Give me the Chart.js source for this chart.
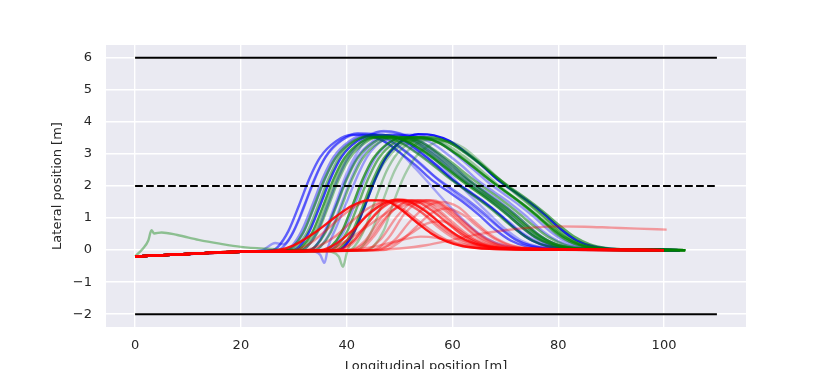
<!DOCTYPE html>
<html>
<head>
<meta charset="utf-8">
<script src="https://cdn.jsdelivr.net/npm/chart.js@4/dist/chart.umd.min.js"></script>
<style>
  html, body { margin: 0; padding: 0; background: #fff; overflow: hidden; }
  canvas { display: block; }
</style>
</head>
<body>
<canvas id="lanes" width="830" height="380"></canvas>
<script>
// tick labels
const xTicks = [0, 20, 40, 60, 80, 100];
const yTicks = [-2, -1, 0, 1, 2, 3, 4, 5, 6];

// road markings: [x from, x to] and lateral positions
const laneSpan = [0, 110];
const laneEdges = [6, -2];
const laneCentre = 2;

// shared approach before the manoeuvre (longitudinal, lateral)
const approach = [[0, -0.2], [10, -0.12], [20, -0.05]];

// blue runs, [longitudinal, lateral]
const blueRuns = [
  [[26,0],[27,0.1],[29,0.6],[31,1.4],[33,2.25],[35,2.9],[38,3.4],[41,3.6],[44,3.58],[47,3.4],[50,3.05],[53,2.65],[56,2.2],[59,1.85],[62,1.5],[65,1.1],[68,0.65],[71,0.3],[74,0.12],[79,0.03],[90,0.01],[103,0]],
  [[27,0],[28,0.1],[30,0.6],[32,1.4],[34,2.25],[36,2.9],[39,3.42],[42,3.65],[45,3.62],[48,3.45],[51,3.1],[54,2.7],[57,2.25],[60,1.9],[63,1.55],[66,1.15],[69,0.7],[72,0.32],[75,0.13],[80,0.03],[103,0]],
  [[28.5,0],[29.5,0.1],[31.5,0.6],[33.5,1.4],[35.5,2.25],[37.5,2.9],[40.5,3.4],[43.5,3.6],[46.5,3.6],[49.5,3.45],[52.5,3.15],[55.5,2.8],[58.5,2.4],[61.5,2.0],[64.5,1.65],[67.5,1.3],[70.5,0.9],[73.5,0.5],[76.5,0.22],[80,0.08],[86,0.02],[103,0]],
  [[30,0],[31,0.1],[33,0.6],[35,1.4],[37,2.25],[39,2.9],[42,3.4],[45,3.6],[48,3.58],[51,3.4],[54,3.05],[57,2.65],[60,2.2],[63,1.85],[66,1.5],[69,1.1],[72,0.65],[75,0.3],[78,0.12],[83,0.03],[103,0]],
  [[31.5,0],[32.5,0.1],[34.5,0.6],[36.5,1.45],[38.5,2.3],[40.5,2.95],[43.5,3.5],[46.5,3.7],[49.5,3.66],[52.5,3.45],[55.5,3.1],[58.5,2.7],[61.5,2.25],[64.5,1.88],[67.5,1.5],[70.5,1.1],[73.5,0.65],[76.5,0.3],[79.5,0.12],[84,0.03],[103,0]],
  [[33,0],[34,0.1],[36,0.6],[38,1.4],[40,2.25],[42,2.9],[45,3.4],[48,3.6],[51,3.58],[54,3.4],[57,3.05],[60,2.65],[63,2.2],[66,1.85],[69,1.5],[72,1.1],[75,0.65],[78,0.3],[81,0.12],[86,0.03],[103,0]],
  [[33,-0.02],[35,-0.15],[35.8,-0.4],[36.5,0.1],[38,0.7],[40,1.5],[42,2.3],[44,2.95],[47,3.45],[50,3.6],[53,3.55],[56,3.35],[59,3.0],[62,2.6],[65,2.15],[68,1.8],[71,1.45],[74,1.05],[77,0.6],[80,0.28],[83,0.11],[88,0.03],[103,0]],
  [[30,-0.02],[38.5,0],[39.5,0.1],[41.5,0.6],[43.5,1.4],[45.5,2.25],[47.5,2.9],[50.5,3.42],[53.5,3.62],[56.5,3.58],[59.5,3.4],[62.5,3.05],[65.5,2.65],[68.5,2.2],[71.5,1.85],[74.5,1.5],[77.5,1.1],[80.5,0.65],[83.5,0.3],[86.5,0.12],[91,0.03],[103,0]],
  [[33,0],[34,0.1],[36,0.65],[38,1.5],[40,2.4],[42,3.05],[44,3.5],[47,3.72],[50,3.65],[53,3.45],[56,3.1],[59,2.7],[62,2.28],[65,1.9],[68,1.52],[71,1.1],[74,0.65],[77,0.3],[80,0.12],[85,0.03],[103,0]],
  [[24,0],[26.5,0.22],[28,0.18],[29,0.3],[31,0.95],[33,1.8],[35,2.6],[37,3.15],[40,3.52],[43,3.62],[46,3.55],[49,3.32],[52,2.95],[55,2.52],[58,2.1],[61,1.72],[64,1.35],[67,0.95],[70,0.55],[73,0.24],[76,0.1],[81,0.02],[103,0]],
  [[36.5,0],[37.5,0.1],[39.5,0.6],[41.5,1.4],[43.5,2.25],[45.5,2.9],[48.5,3.4],[51.5,3.6],[54.5,3.56],[57.5,3.36],[60.5,3.0],[63.5,2.58],[66.5,2.15],[69.5,1.78],[72.5,1.42],[75.5,1.02],[78.5,0.58],[81.5,0.26],[84.5,0.1],[89,0.02],[103,0]],
  [[29,0],[30,0.1],[32,0.6],[34,1.4],[36,2.25],[38,2.9],[41,3.4],[44,3.55],[47,3.4],[50,3.05],[53,2.55],[56,2.0],[59,1.45],[62,0.95],[65,0.52],[68,0.24],[71,0.1],[76,0.02],[103,0]],
  [[34,0],[35,0.1],[37,0.6],[39,1.45],[41,2.3],[43,2.95],[46,3.45],[49,3.6],[52,3.45],[55,3.1],[58,2.62],[61,2.1],[64,1.6],[67,1.12],[70,0.66],[73,0.3],[76,0.12],[81,0.03],[103,0]]
];
const blueAlpha = [0.6, 0.45, 0.4, 0.75, 0.4, 0.4, 0.35, 0.9, 0.3, 0.35, 0.35, 0.3, 0.3];

// green runs
const greenRuns = [
  [[28.8,0],[29.8,0.1],[31.8,0.55],[33.8,1.35],[35.8,2.2],[37.8,2.85],[40.8,3.35],[43.8,3.52],[46.8,3.52],[49.8,3.38],[52.8,3.08],[55.8,2.72],[58.8,2.32],[61.8,1.95],[64.8,1.6],[67.8,1.22],[70.8,0.8],[73.8,0.42],[76.8,0.18],[79.8,0.07],[84.8,0.02],[104,0]],
  [[29.5,0],[30.5,0.1],[32.5,0.55],[34.5,1.35],[36.5,2.2],[38.5,2.88],[41.5,3.4],[44.5,3.58],[47.5,3.58],[50.5,3.46],[53.5,3.2],[56.5,2.88],[59.5,2.5],[62.5,2.12],[65.5,1.78],[68.5,1.45],[71.5,1.08],[74.5,0.66],[77.5,0.32],[80.5,0.13],[85,0.04],[104,0]],
  [[30.5,0],[31.5,0.1],[33.5,0.55],[35.5,1.35],[37.5,2.2],[39.5,2.85],[42.5,3.35],[45.5,3.52],[48.5,3.52],[51.5,3.38],[54.5,3.08],[57.5,2.72],[60.5,2.32],[63.5,1.95],[66.5,1.6],[69.5,1.22],[72.5,0.8],[75.5,0.42],[78.5,0.18],[81.5,0.07],[86.5,0.02],[104,0]],
  [[33,0],[34,0.1],[36,0.55],[38,1.35],[40,2.2],[42,2.85],[45,3.35],[48,3.52],[51,3.52],[54,3.38],[57,3.08],[60,2.72],[63,2.32],[66,1.95],[69,1.6],[72,1.22],[75,0.8],[78,0.42],[81,0.18],[84,0.07],[89,0.02],[104,0]],
  [[34,0],[35,0.1],[37,0.55],[39,1.35],[41,2.2],[43,2.85],[46,3.35],[49,3.5],[52,3.45],[55,3.25],[58,2.9],[61,2.5],[64,2.08],[67,1.7],[70,1.35],[73,0.95],[76,0.52],[79,0.22],[82,0.08],[87,0.02],[104,0]],
  [[36,0],[37,0.1],[39,0.55],[41,1.35],[43,2.2],[45,2.85],[48,3.35],[51,3.52],[54,3.52],[57,3.38],[60,3.08],[63,2.72],[66,2.32],[69,1.95],[72,1.6],[75,1.22],[78,0.8],[81,0.42],[84,0.18],[87,0.07],[92,0.02],[104,0]],
  [[40.5,0],[41.5,0.12],[43.5,0.7],[45.5,1.6],[47.5,2.45],[49.5,3.0],[52.5,3.4],[55.5,3.5],[58.5,3.42],[61.5,3.18],[64.5,2.82],[67.5,2.4],[70.5,1.98],[73.5,1.6],[76.5,1.18],[79.5,0.72],[82.5,0.34],[85.5,0.13],[90,0.03],[104,0]],
  [[42,0],[43,0.12],[45,0.7],[47,1.6],[49,2.45],[51,3.0],[54,3.38],[57,3.45],[60,3.3],[63,3.0],[66,2.6],[69,2.15],[72,1.75],[75,1.35],[78,0.9],[81,0.45],[84,0.18],[87,0.06],[92,0.02],[104,0]],
  [[34,0],[37,-0.05],[38.5,-0.2],[39.3,-0.52],[40,-0.1],[41,0.35],[43,1.2],[45,2.05],[47,2.7],[50,3.25],[53,3.45],[56,3.45],[59,3.28],[62,2.95],[65,2.55],[68,2.12],[71,1.72],[74,1.32],[77,0.9],[80,0.46],[83,0.19],[86,0.07],[91,0.02],[104,0]],
  [[38,0],[39,0.1],[41,0.55],[43,1.35],[45,2.2],[47,2.85],[50,3.35],[53,3.52],[56,3.52],[59,3.38],[62,3.08],[65,2.72],[68,2.32],[71,1.95],[74,1.6],[77,1.22],[80,0.8],[83,0.42],[86,0.18],[89,0.07],[94,0.02],[104,0]],
  [[44,0],[45,0.1],[47,0.6],[49,1.55],[51,2.35],[53,2.9],[56,3.3],[59,3.4],[62,3.2],[65,2.8],[68,2.35],[71,1.9],[74,1.5],[77,1.08],[80,0.62],[83,0.28],[86,0.1],[91,0.02],[104,0]],
  [[0,-0.2],[1.5,0.05],[2.5,0.3],[3.1,0.62],[3.6,0.52],[5,0.55],[8,0.47],[12,0.32],[16,0.2],[20,0.1],[25,0.04],[31,0],[32,0.1],[34,0.55],[36,1.35],[38,2.2],[40,2.85],[43,3.35],[46,3.52],[49,3.52],[52,3.38],[55,3.08],[58,2.72],[61,2.32],[64,1.95],[67,1.6],[70,1.22],[73,0.8],[76,0.42],[79,0.18],[82,0.07],[87,0.02],[104,0]],
  [[31.5,0],[32.5,0.1],[34.5,0.55],[36.5,1.35],[38.5,2.2],[40.5,2.85],[43.5,3.35],[46.5,3.55],[49.5,3.55],[52.5,3.4],[55.5,3.1],[58.5,2.75],[61.5,2.35],[64.5,1.98],[67.5,1.62],[70.5,1.25],[73.5,0.82],[76.5,0.44],[79.5,0.19],[82.5,0.07],[87.5,0.02],[104,0]],
  [[37,0],[38,0.1],[40,0.55],[42,1.35],[44,2.2],[46,2.85],[49,3.35],[52,3.5],[55,3.48],[58,3.3],[61,2.98],[64,2.6],[67,2.2],[70,1.82],[73,1.46],[76,1.06],[79,0.62],[82,0.28],[85,0.11],[90,0.02],[104,0]]
];
const greenAlpha = [0.55, 0.45, 0.7, 0.5, 0.45, 0.7, 0.35, 0.3, 0.35, 0.6, 0.3, 0.4, 0.45, 0.55];

// red runs
const redRuns = [
  [[27,0],[30,0.15],[34,0.55],[38,1.05],[41,1.38],[44,1.55],[47,1.55],[50,1.3],[53,0.9],[56,0.52],[59,0.26],[62,0.12],[67,0.04],[80,0.01],[100,0]],
  [[30,0],[33,0.2],[36,0.6],[39,1.05],[42,1.4],[44.5,1.56],[47.5,1.54],[50.5,1.3],[53.5,0.92],[56.5,0.55],[59.5,0.27],[63,0.1],[70,0.03],[100,0]],
  [[35,0],[38,0.2],[41,0.6],[44,1.1],[47,1.45],[49.5,1.57],[52,1.5],[55,1.2],[58,0.8],[61,0.45],[64,0.22],[67,0.1],[72,0.03],[100,0]],
  [[37,0],[40,0.3],[43,0.95],[46,1.42],[48.5,1.55],[51,1.5],[54,1.2],[57,0.75],[60,0.4],[63,0.18],[67,0.07],[75,0.02],[100,0]],
  [[39,0],[42,0.35],[45,1.05],[48,1.5],[50.5,1.58],[53,1.45],[56,1.1],[59,0.65],[62,0.33],[65,0.15],[70,0.05],[100,0]],
  [[40.5,0],[43.5,0.3],[46.5,1.0],[49.5,1.48],[52,1.56],[55,1.45],[58,1.1],[61,0.65],[64,0.32],[67,0.14],[72,0.04],[100,0]],
  [[42,0],[45,0.4],[48,1.1],[51,1.5],[53.5,1.56],[56,1.42],[59,1.02],[62,0.6],[65,0.28],[68,0.12],[73,0.04],[100,0]],
  [[43.5,0],[46.5,0.35],[49.5,1.05],[52.5,1.5],[55,1.56],[58,1.38],[61,0.95],[64,0.52],[67,0.24],[70,0.1],[75,0.03],[100,0]],
  [[45,0],[48,0.4],[51,1.15],[54,1.52],[56.5,1.55],[59,1.35],[62,0.92],[65,0.5],[68,0.23],[71,0.1],[76,0.03],[100,0]],
  [[32,0],[35,0.15],[38,0.45],[41,0.9],[44,1.3],[47,1.5],[50,1.5],[53,1.3],[56,0.95],[59,0.58],[62,0.3],[65,0.14],[70,0.04],[100,0]],
  [[40,0],[45,0.1],[50,0.3],[54,0.42],[57,0.38],[61,0.22],[65,0.09],[71,0.02],[100,0]],
  [[45,0],[50,0.05],[55,0.15],[60,0.32],[65,0.5],[70,0.62],[75,0.7],[80,0.74],[85,0.73],[90,0.7],[95,0.67],[100.5,0.64]],
  [[44,0],[48,0.15],[52,0.5],[55,0.82],[58,0.9],[61,0.65],[64,0.32],[67,0.12],[72,0.03],[100,0]],
  [[41,0],[44,0.3],[47,0.95],[50,1.4],[53,1.55],[56,1.55],[59,1.3],[62,0.88],[65,0.48],[68,0.2],[72,0.07],[100,0]],
  [[38,0],[41,0.25],[44,0.85],[47,1.35],[50,1.55],[53,1.52],[56,1.25],[59,0.85],[62,0.46],[65,0.2],[69,0.07],[100,0]],
  [[46,0],[49,0.3],[52,0.9],[55,1.35],[58,1.5],[61,1.35],[64,0.92],[67,0.5],[70,0.22],[74,0.07],[100,0]],
  [[36,0],[40,0.3],[44,0.75],[48,1.2],[52,1.45],[55,1.5],[58,1.3],[61,0.9],[64,0.48],[67,0.2],[71,0.06],[100,0]],
  [[47,0],[50,0.25],[53,0.7],[56,1.15],[59,1.3],[62,1.1],[65,0.7],[68,0.35],[71,0.14],[76,0.04],[100,0]]
];
const redAlpha = [0.9, 0.4, 0.85, 0.35, 0.35, 0.35, 0.35, 0.35, 0.35, 0.4, 0.35, 0.35, 0.35, 0.35, 0.65, 0.35, 0.35, 0.35];

const font = { family: 'DejaVu Sans', size: 13 };
const ink = '#262626';

function runPoints(run) {
  const pts = run[0][0] > 20 ? approach.concat(run) : run;
  return pts.map(p => ({ x: p[0], y: p[1] }));
}

function runSets(runs, alphas, rgb, order) {
  return runs.map((run, i) => ({
    data: runPoints(run),
    borderColor: 'rgba(' + rgb + ',' + alphas[i] + ')',
    borderWidth: 2.4,
    cubicInterpolationMode: 'monotone',
    pointRadius: 0,
    order: order
  }));
}

const markings = laneEdges.map(y => ({
  data: laneSpan.map(x => ({ x: x, y: y })),
  borderColor: '#000', borderWidth: 2, pointRadius: 0, order: 0
})).concat([{
  data: laneSpan.map(x => ({ x: x, y: laneCentre })),
  borderColor: '#000', borderWidth: 2, borderDash: [7.7, 3.3], pointRadius: 0, order: 0
}]);

const areaFill = {
  id: 'areaFill',
  beforeDraw(chart) {
    const { ctx, chartArea: a } = chart;
    ctx.save();
    ctx.fillStyle = '#EAEAF2';
    ctx.fillRect(a.left, a.top, a.right - a.left, a.bottom - a.top);
    ctx.restore();
  }
};

const fmt = v => (v < 0 ? '\u2212' + Math.abs(v) : String(v));

new Chart(document.getElementById('lanes').getContext('2d'), {
  type: 'line',
  data: {
    datasets: runSets(blueRuns, blueAlpha, '0,0,255', 3)
      .concat(runSets(greenRuns, greenAlpha, '0,128,0', 2))
      .concat(runSets(redRuns, redAlpha, '255,0,0', 1))
      .concat(markings)
  },
  options: {
    responsive: false,
    animation: false,
    layout: { padding: { left: 46, right: 84, top: 45, bottom: 0 } },
    plugins: { legend: { display: false }, tooltip: { enabled: false } },
    scales: {
      x: {
        type: 'linear', min: -5.5, max: 115.5,
        afterBuildTicks: s => { s.ticks = xTicks.map(v => ({ value: v })); },
        afterFit: s => { s.height = 53; },
        grid: { color: '#fff', lineWidth: 1.4, drawTicks: false },
        border: { display: false },
        ticks: { padding: 11, color: ink, font: font, callback: fmt, maxRotation: 0 },
        title: { display: true, text: 'Longitudinal position [m]', color: ink, font: font, padding: { top: 0, bottom: 6 } }
      },
      y: {
        type: 'linear', min: -2.4, max: 6.4,
        afterBuildTicks: s => { s.ticks = yTicks.map(v => ({ value: v })); },
        afterFit: s => { s.width = 60; },
        grid: { color: '#fff', lineWidth: 1.4, drawTicks: false },
        border: { display: false },
        ticks: { padding: 14, color: ink, font: font, callback: fmt },
        title: { display: true, text: 'Lateral position [m]', color: ink, font: font, padding: { top: 4, bottom: 0 } }
      }
    }
  },
  plugins: [areaFill]
});
</script>
</body>
</html>
